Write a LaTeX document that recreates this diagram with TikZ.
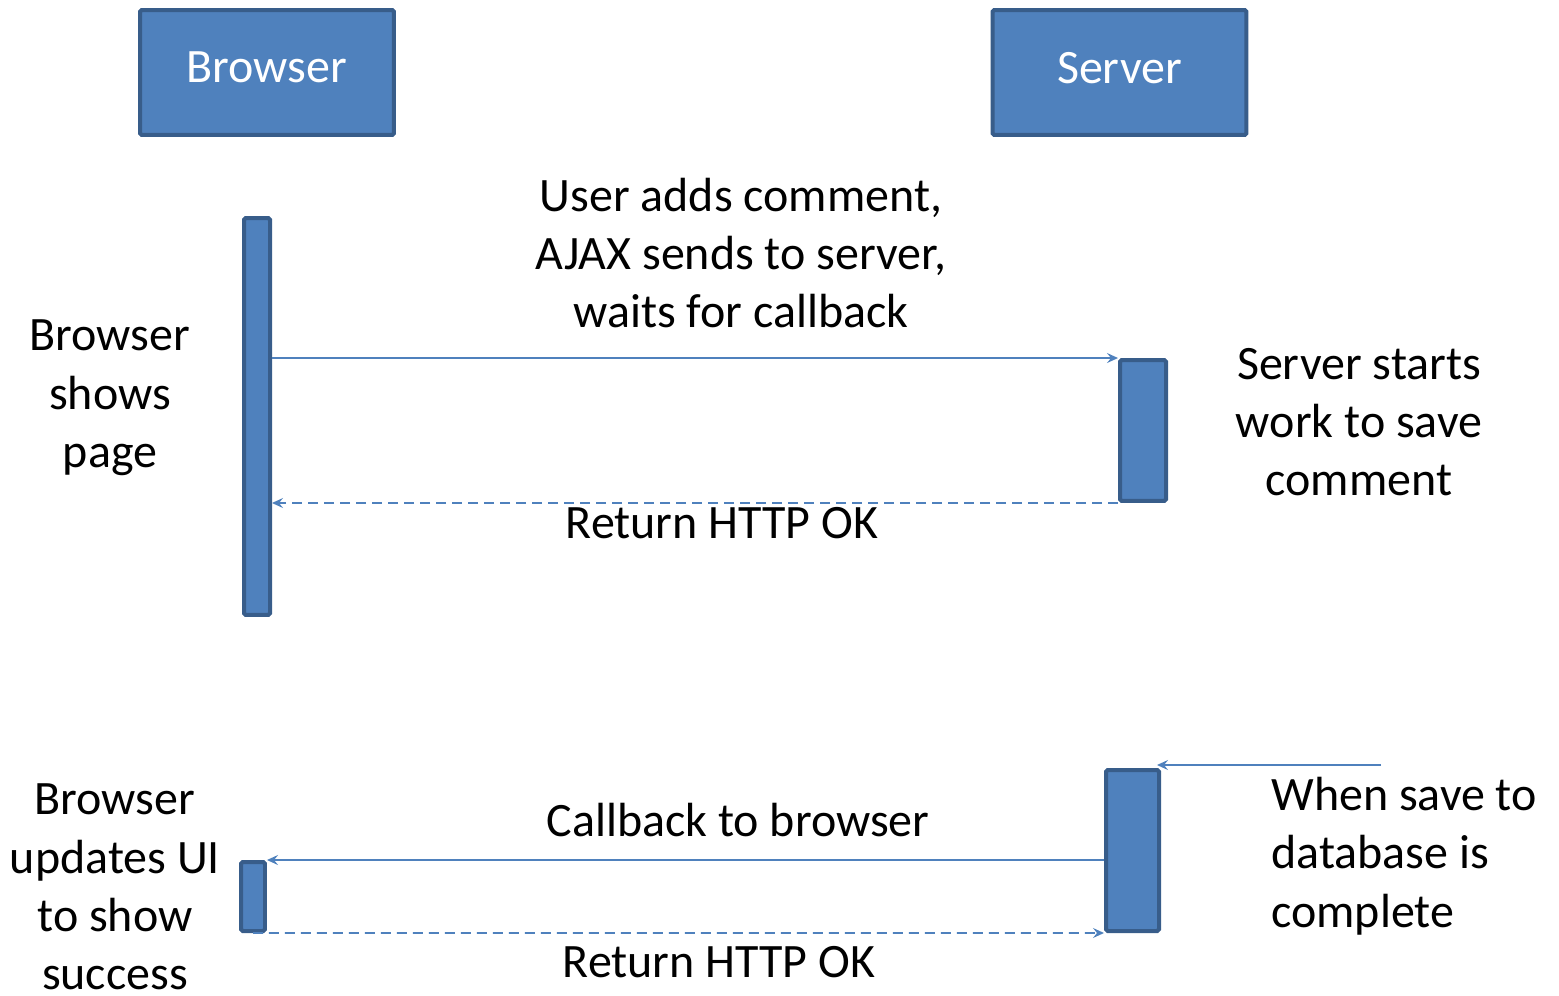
\documentclass[tikz,border=0pt]{standalone}
\usepackage{fontspec}
\setmainfont{Carlito}
\usepackage{tikz}
\usetikzlibrary{arrows.meta}

\definecolor{boxfill}{HTML}{4F81BD}
\definecolor{boxline}{HTML}{385D8A}

\begin{document}
\begin{tikzpicture}[x=0.02cm, y=-0.02cm,
        every node/.style={font=\fontsize{27.3}{33.2}\selectfont},
        actor/.style={rectangle, draw=boxline, fill=boxfill, line width=0.08cm, rounded corners=1pt, text=white, inner sep=0pt, minimum width=5.08cm, minimum height=2.5cm},
        bar/.style={rectangle, draw=boxline, fill=boxfill, line width=0.08cm, rounded corners=1pt, inner sep=0pt},
        note/.style={align=center, inner sep=0pt},
        msg/.style={draw=boxfill, line width=0.035cm, -{Stealth[length=0.22cm, width=0.2cm, inset=0.08cm]}},
        reply/.style={msg, dashed, dash pattern=on 0.2cm off 0.12cm}]
    \useasboundingbox (0,0) rectangle (1559,995);
    \node[actor] (Browser) at (267,72.5) {\raisebox{0.2cm}{Browser}};
    \node[actor] (Server) at (1119.5,72.5) {\raisebox{0.2cm}{Server}};
    % activation bars
    \node[bar, minimum width=0.52cm, minimum height=7.94cm] (bar1) at (257,416.5) {};
    \node[bar, minimum width=0.92cm, minimum height=2.82cm] (srv1) at (1143,430.5) {};
    \node[bar, minimum width=1.06cm, minimum height=3.22cm] (srv2) at (1132.5,850.5) {};
    \node[bar, minimum width=0.48cm, minimum height=1.38cm] (bar2) at (253,896.5) {};
    \coordinate (trigger) at (1381,765);
    % labels
    \node[note] (send) at (741,253) {User adds comment,\\AJAX sends to server,\\waits for callback};
    \node[note] (ok1) at (722,523) {Return HTTP OK};
    \node[note] (shows) at (110,398) {Browser\\shows\\page};
    \node[note] (work) at (1359,422) {Server starts\\work to save\\comment};
    \node[note] (cb) at (738,820) {Callback to browser};
    \node[note] (ok2) at (719,962) {Return HTTP OK};
    \node[note] (updates) at (115,887) {Browser\\updates UI\\to show\\success};
    \node[note, align=left, anchor=west] (done) at (1271,856) {When save to\\database is\\complete};
    % messages
    \path
        (bar1.east |- srv1.north) edge[msg] (srv1.north west)
        (srv1.south west) edge[reply] (bar1.east |- srv1.south west)
        (trigger) edge[msg] ([xshift=-0.08cm]trigger -| srv2.north east)
        (srv2.west |- bar2.north) edge[msg] (bar2.north east)
        (bar2.south) edge[reply] (srv2.south west);
\end{tikzpicture}
\end{document}
